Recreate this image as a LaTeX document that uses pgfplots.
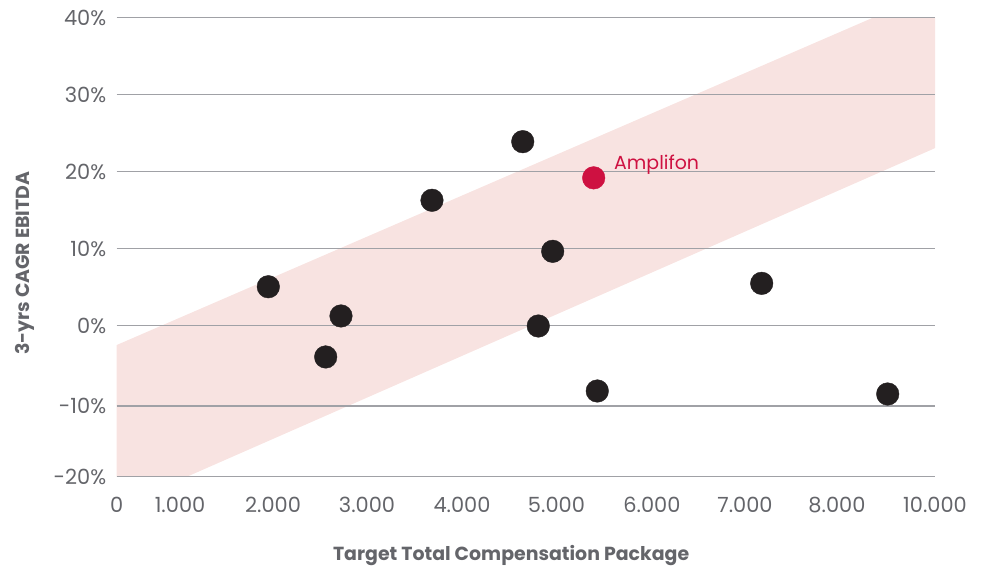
\documentclass[border=0pt]{standalone}
\usepackage{pgfplots}
\pgfplotsset{compat=1.18}
\usepackage{fontspec}
\setmainfont{Poppins}

\definecolor{txtgray}{RGB}{100,101,106}
\definecolor{gridgray}{RGB}{160,161,166}
\definecolor{bandpink}{RGB}{248,227,225}
\definecolor{dotblack}{RGB}{35,31,32}
\definecolor{ampred}{RGB}{206,17,65}

\begin{document}
\begin{tikzpicture}
  \begin{axis}[
    set layers,
    width=818.3bp,
    height=459bp,
    scale only axis,
    xmin=0, xmax=10000,
    ymin=-19.61, ymax=40,
    axis line style={draw=none},
    scaled ticks=false,
    % the reference places its labels unevenly, so ticks follow the picture
    xtick={0,774,1910,3059,4220,5374,6541,7678,8802,10000},
    xticklabels={0,1.000,2.000,3.000,4.000,5.000,6.000,7.000,8.000,10.000},
    ytick={-19.61,-10.39,0,10,20,30,40},
    yticklabels={-20\%,-10\%,0\%,10\%,20\%,30\%,40\%},
    ymajorgrids,
    major grid style={gridgray, line width=1.6bp},
    major tick length=0pt,
    tick style={draw=none},
    tick label style={font=\fontsize{21}{24}\selectfont, text=txtgray},
    xticklabel style={yshift=-17bp},
    yticklabel style={xshift=-7bp},
    /pgf/number format/assume math mode=true,
    xlabel={\textbf{Target Total Compensation Package}},
    ylabel={\textbf{3-yrs CAGR EBITDA}},
    label style={font=\fontsize{19}{22}\selectfont, text=txtgray},
    xlabel style={at={(axis description cs:0.482,0)}, anchor=center, yshift=-79bp},
    ylabel style={at={(axis description cs:0,0.465)}, anchor=center, yshift=92bp},
  ]
  % band (already cut to the axis box), under the grid lines
  \addplot[draw=none, fill=bandpink, on layer=axis background] coordinates {
    (0,-2.51) (9242,40) (10000,40) (10000,23.06) (859,-19.61) (0,-19.61)} -- cycle;
  % peers
  \addplot[dotblack, only marks, mark=*, mark size=11.3bp, mark options={draw=none, fill=dotblack}] coordinates {
    (1853,5.06) (2554,-4.06) (2741,1.26) (3853,16.29) (4962,23.9)
    (5328,9.66) (5152,-0.04) (5873,-8.48) (7882,5.5) (9422,-8.87)};
  % Amplifon
  \addplot[ampred, only marks, mark=*, mark size=11.3bp, mark options={draw=none, fill=ampred},
    nodes near coords={Amplifon},
    every node near coord/.style={anchor=west, text=ampred, xshift=17bp, yshift=13bp,
      font=\fontsize{19}{23}\selectfont}] coordinates {(5829,19.2)};
  \end{axis}
  \path[use as bounding box] (-116.7bp,-91.3bp) rectangle (876.3bp,476.7bp);
\end{tikzpicture}
\end{document}
